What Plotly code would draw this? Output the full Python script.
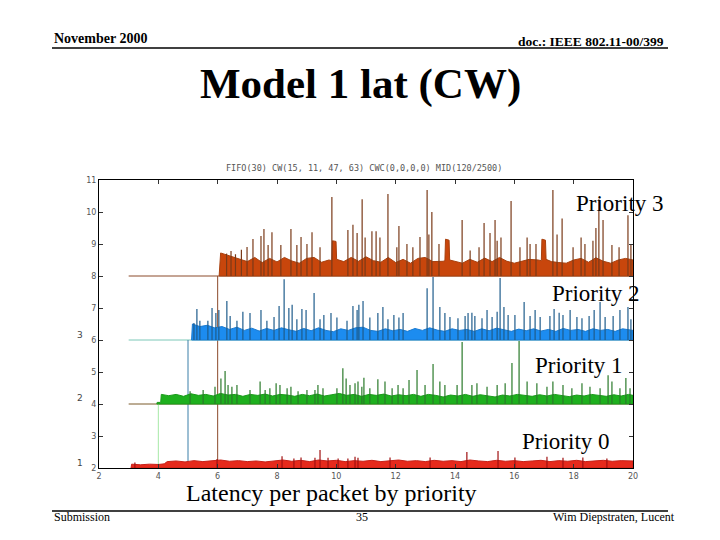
import plotly.graph_objects as go

# ---------------- data ----------------
x_tick_vals = [2, 4, 6, 8, 10, 12, 14, 16, 18, 20]
y_tick_vals = [2, 3, 4, 5, 6, 7, 8, 9, 10, 11]

# Priority 3 (baseline 8)
p3_base = 8
p3_band_x = [6.05, 6.1, 6.3, 6.5, 6.75, 7.0, 7.25, 7.5, 7.75, 8.0, 8.25, 8.5, 8.75, 9.0, 9.25, 9.5, 9.75, 9.85,
             9.87, 9.99, 10.01, 10.25, 10.5, 10.75, 11.0, 11.25, 11.5, 11.75, 12.0, 12.25, 12.5, 12.75, 13.0,
             13.25, 13.6, 13.66, 13.68, 13.8, 13.82, 14.0, 14.25, 14.5, 14.75, 15.0, 15.25, 15.5, 15.75, 16.0,
             16.25, 16.5, 16.8, 16.91, 16.93, 17.05, 17.07, 17.25, 17.5, 17.75, 18.0, 18.25, 18.5, 18.75, 19.0,
             19.25, 19.5, 19.75, 20.0]
p3_band_y = [8.0, 8.72, 8.66, 8.6, 8.52, 8.45, 8.58, 8.42, 8.55, 8.44, 8.58, 8.47, 8.4, 8.55, 8.58, 8.43, 8.5, 8.48,
             9.1, 9.08, 8.52, 8.45, 8.58, 8.46, 8.6, 8.48, 8.43, 8.58, 8.42, 8.52, 8.4, 8.55, 8.58,
             8.45, 8.46, 8.48, 9.15, 9.12, 8.5, 8.46, 8.4, 8.52, 8.43, 8.56, 8.45, 8.58, 8.46, 8.4,
             8.47, 8.52, 8.5, 8.48, 9.15, 9.12, 8.52, 8.45, 8.42, 8.4, 8.5, 8.55, 8.43, 8.57, 8.46,
             8.4, 8.5, 8.55, 8.5]
p3_spike_x = [6.3, 6.45, 6.6, 6.8, 6.99, 7.19, 7.46, 7.56, 7.70, 7.83, 8.13, 8.47, 8.67, 8.81, 9.01, 9.18, 9.45,
              9.85, 10.39, 10.56, 10.70, 10.87, 10.97, 11.20, 11.34, 11.47, 11.74, 12.04, 12.11, 12.38, 12.58,
              12.82, 13.06, 13.12, 13.22, 13.46, 14.24, 14.51, 14.81, 14.98, 15.18, 15.35, 15.42, 15.55, 15.89,
              16.19, 16.43, 16.53, 16.73, 17.30, 17.44, 17.61, 17.98, 18.25, 18.38, 18.65, 18.75, 18.85, 18.99,
              19.29, 19.53, 19.83, 19.93]
p3_spike_y = [8.7, 8.78, 8.68, 8.82, 8.91, 9.16, 9.25, 9.47, 8.97, 9.37, 8.97, 9.47, 8.97, 9.22, 9.0, 9.37, 8.9,
              10.47, 9.44, 9.6, 9.34, 10.4, 9.2, 9.4, 9.4, 9.2, 10.56, 8.9, 9.56, 9.0, 8.9,
              9.22, 10.69, 9.3, 10.0, 9.0, 9.75, 8.8, 8.9, 9.66, 9.34, 9.75, 9.1, 9.2, 10.34,
              8.9, 9.2, 9.0, 9.0, 10.69, 9.3, 9.8, 8.9, 9.2, 9.0, 9.1, 9.5, 10.4, 9.75,
              8.97, 8.9, 9.9, 9.0]

# Priority 2 (baseline 6)
p2_base = 6
p2_band_x = [5.12, 5.15, 5.4, 5.65, 5.9, 6.15, 6.4, 6.65, 6.9, 7.15, 7.4, 7.65, 7.9, 8.15, 8.4, 8.65, 8.9, 9.15,
             9.4, 9.65, 9.9, 10.15, 10.4, 10.65, 10.9, 11.15, 11.4, 11.65, 11.9, 12.15, 12.4, 12.65, 12.9, 13.15,
             13.4, 13.65, 13.9, 14.15, 14.4, 14.65, 14.9, 15.15, 15.4, 15.65, 15.9, 16.15, 16.4, 16.65, 16.9,
             17.15, 17.4, 17.65, 17.9, 18.15, 18.4, 18.65, 18.9, 19.15, 19.4, 19.65, 20.0]
p2_band_y = [6.0, 6.5, 6.42, 6.46, 6.38, 6.42, 6.33, 6.4, 6.3, 6.37, 6.28, 6.36, 6.3, 6.38, 6.32, 6.27, 6.36, 6.29,
             6.38, 6.3, 6.26, 6.35, 6.3, 6.38, 6.4, 6.3, 6.27, 6.35, 6.29, 6.33, 6.27, 6.36, 6.3, 6.38,
             6.31, 6.27, 6.35, 6.3, 6.33, 6.27, 6.35, 6.29, 6.37, 6.32, 6.27, 6.34, 6.29, 6.35, 6.28,
             6.33, 6.27, 6.36, 6.3, 6.33, 6.27, 6.35, 6.3, 6.33, 6.27, 6.35, 6.3]
p2_spike_x = [5.20, 5.30, 5.40, 5.67, 5.81, 5.94, 6.04, 6.31, 6.42, 6.65, 6.85, 7.09, 7.46, 7.66, 7.90, 8.07, 8.24,
              8.40, 8.51, 8.67, 8.84, 8.98, 9.25, 9.45, 9.58, 9.82, 10.02, 10.36, 10.56, 10.70, 10.76, 10.90,
              11.13, 11.40, 11.57, 11.74, 11.94, 12.11, 12.25, 13.06, 13.26, 13.49, 13.66, 13.83, 14.10, 14.34,
              14.44, 14.57, 14.67, 14.91, 15.08, 15.25, 15.42, 15.52, 15.65, 15.79, 16.02, 16.33, 16.53, 16.70,
              16.87, 17.20, 17.34, 17.51, 17.64, 17.88, 18.11, 18.28, 18.52, 18.69, 18.89, 19.06, 19.33, 19.56,
              19.83, 19.93]
p2_spike_y = [6.53, 6.97, 6.6, 6.6, 7.0, 6.84, 6.94, 7.22, 6.75, 6.6, 6.88, 6.84, 6.94, 6.6, 6.72, 7.06, 7.9,
              7.0, 7.1, 6.65, 6.97, 6.94, 7.47, 6.65, 6.78, 6.84, 6.7, 6.6, 7.06, 6.94, 7.1, 7.22,
              6.7, 6.84, 7.03, 6.65, 6.78, 6.7, 6.84, 7.62, 7.97, 7.03, 6.84, 6.72, 6.68, 6.75,
              6.84, 6.85, 6.75, 6.68, 6.94, 6.72, 6.88, 7.94, 7.03, 6.78, 6.78, 7.19, 6.75, 6.94,
              6.72, 6.75, 6.97, 6.85, 6.78, 6.94, 6.72, 6.68, 6.75, 6.94, 7.19, 6.72, 6.75, 6.94,
              7.03, 6.65]

# Priority 1 (baseline 4)
p1_base = 4
p1_band_x = [3.95, 3.96, 4.08, 4.1, 4.35, 4.6, 4.85, 5.1, 5.35, 5.6, 5.85, 6.1, 6.35, 6.6, 6.85, 7.1, 7.35, 7.6,
             7.85, 8.1, 8.35, 8.6, 8.85, 9.1, 9.35, 9.6, 9.85, 10.1, 10.35, 10.6, 10.85, 11.1, 11.35, 11.6, 11.85,
             12.1, 12.35, 12.6, 12.85, 13.1, 13.35, 13.6, 13.85, 14.1, 14.35, 14.6, 14.85, 15.1, 15.35, 15.6,
             15.85, 16.1, 16.35, 16.6, 16.85, 17.1, 17.35, 17.6, 17.85, 18.1, 18.35, 18.6, 18.85, 19.1, 19.35,
             19.6, 19.85, 20.0]
p1_band_y = [4.0, 4.05, 4.05, 4.3, 4.26, 4.3, 4.24, 4.32, 4.27, 4.3, 4.25, 4.33, 4.28, 4.3, 4.24, 4.3, 4.27, 4.31,
             4.25, 4.3, 4.28, 4.24, 4.3, 4.26, 4.31, 4.25, 4.29, 4.33, 4.27, 4.3, 4.24, 4.3, 4.27, 4.31, 4.25,
             4.29, 4.26, 4.3, 4.24, 4.3, 4.27, 4.22, 4.28, 4.25, 4.3, 4.24, 4.29, 4.26, 4.22, 4.28,
             4.25, 4.3, 4.26, 4.24, 4.29, 4.25, 4.3, 4.26, 4.23, 4.28, 4.25, 4.3, 4.26, 4.24, 4.29,
             4.25, 4.3, 4.27]
p1_spike_x = [5.07, 5.51, 5.91, 6.11, 6.25, 6.35, 6.48, 6.65, 7.09, 7.43, 7.60, 7.76, 7.97, 8.10, 8.34, 8.47, 8.71,
              9.01, 9.28, 9.38, 9.55, 10.02, 10.22, 10.33, 10.46, 10.63, 10.73, 10.86, 10.93, 11.13, 11.40,
              11.64, 11.88, 12.08, 12.25, 12.45, 12.72, 12.99, 13.26, 13.49, 13.66, 14.07, 14.24, 14.57, 14.74,
              15.08, 15.42, 15.69, 15.92, 16.16, 16.43, 16.76, 17.10, 17.30, 17.64, 17.94, 18.28, 18.55, 18.89,
              19.16, 19.29, 19.56, 19.76, 19.90]
p1_spike_y = [4.4, 4.44, 4.54, 4.8, 5.03, 4.59, 4.54, 4.59, 4.44, 4.7, 4.44, 4.49, 4.65, 4.59, 4.49, 4.54, 4.4,
              4.44, 4.44, 4.59, 4.49, 4.49, 5.12, 4.8, 4.59, 4.65, 4.7, 4.54, 4.82, 4.49, 4.77,
              4.7, 4.49, 4.59, 4.49, 4.75, 5.06, 4.59, 5.25, 4.7, 4.59, 4.59, 5.94, 4.59, 4.65,
              4.54, 4.59, 4.65, 5.28, 5.97, 4.7, 4.65, 4.54, 4.7, 4.59, 4.49, 4.65, 4.54, 4.49,
              4.9, 4.7, 4.49, 4.81, 4.49]

# Priority 0 (baseline 2)
p0_base = 2
p0_band_x = [3.08, 3.1, 3.4, 3.7, 4.0, 4.2, 4.3, 4.6, 4.9, 5.2, 5.5, 5.8, 6.1, 6.4, 6.7, 7.0, 7.3, 7.6, 7.9, 8.2,
             8.5, 8.8, 9.1, 9.4, 9.7, 10.0, 10.3, 10.6, 10.9, 11.2, 11.5, 11.8, 12.1, 12.4, 12.7, 13.0, 13.3,
             13.6, 13.9, 14.2, 14.5, 14.8, 15.1, 15.4, 15.7, 16.0, 16.3, 16.6, 16.9, 17.2, 17.5, 17.8, 18.1,
             18.4, 18.7, 19.0, 19.3, 19.6, 20.0]
p0_band_y = [2.0, 2.12, 2.1, 2.12, 2.11, 2.13, 2.2, 2.22, 2.19, 2.23, 2.2, 2.22, 2.25, 2.21, 2.23, 2.2, 2.22, 2.19,
             2.23, 2.25, 2.21, 2.24, 2.2, 2.25, 2.22, 2.24, 2.2, 2.23, 2.21, 2.24, 2.2, 2.22, 2.25, 2.21, 2.23,
             2.2, 2.24, 2.21, 2.23, 2.2, 2.25, 2.22, 2.2, 2.24, 2.21, 2.23, 2.2, 2.22, 2.24, 2.2, 2.23, 2.21,
             2.24, 2.2, 2.22, 2.24, 2.21, 2.23, 2.22]
p0_spike_x = [3.21, 5.98, 8.17, 8.57, 8.81, 9.28, 9.45, 9.72, 10.06, 10.39, 10.63, 10.73, 11.81, 13.16, 14.40,
              15.45, 16.02, 17.10, 17.64, 18.31, 19.12]
p0_spike_y = [2.17, 2.28, 2.37, 2.3, 2.33, 2.32, 2.56, 2.32, 2.3, 2.3, 2.35, 2.32, 2.33, 2.33, 2.5,
              2.53, 2.33, 2.35, 2.32, 2.33, 2.3]

# step lines (start of each trace before the data begins)
step_levels = [8, 6, 4]
step_start_x = [3.0, 3.0, 3.0]
drop_x = [6.0, 5.0, 4.0]
labels = ["Priority 3", "Priority 2", "Priority 1", "Priority 0"]

# ---------------- styling ----------------
fill_cols = ["#C8460C", "#1C8CF0", "#1EB01E", "#E62A1C"]
edge_cols = ["#A8400E", "#1A7AD0", "#1A9A1A", "#C82018"]
spike_cols = ["#7A3A18", "#1E5C8C", "#2A7A2A", "#A01010"]
step_cols = ["#8B4A2B", "#7CC8B8", "#7A5A2A"]
drop_cols = ["#8B4A2B", "#3B7EA8", "#A6E8A6"]

# page offset (browser body margin) and plot-area box in screen pixels
OFF = 8
PX_L, PX_R, PX_T, PX_B = 99, 633, 180, 468
FIG_W, FIG_H = 720 - OFF, 540 - OFF


def P(px, py):
    return (px - PX_L) / (PX_R - PX_L), (PX_B - py) / (PX_B - PX_T)


fig = go.Figure()

# step / drop lines
for lvl, sx, dx, sc, dc in zip(step_levels, step_start_x, drop_x, step_cols, drop_cols):
    fig.add_trace(go.Scatter(x=[sx, 20], y=[lvl, lvl], mode="lines",
                             line=dict(color=sc, width=1), hoverinfo="skip", showlegend=False))
    fig.add_trace(go.Scatter(x=[dx, dx], y=[2, lvl], mode="lines",
                             line=dict(color=dc, width=1), hoverinfo="skip", showlegend=False))

series = [
    (p3_base, p3_band_x, p3_band_y, p3_spike_x, p3_spike_y),
    (p2_base, p2_band_x, p2_band_y, p2_spike_x, p2_spike_y),
    (p1_base, p1_band_x, p1_band_y, p1_spike_x, p1_spike_y),
    (p0_base, p0_band_x, p0_band_y, p0_spike_x, p0_spike_y),
]

for i, (base, bx, by, sx, sy) in enumerate(series):
    poly_x = list(bx) + [bx[-1], bx[0]]
    poly_y = list(by) + [base, base]
    fig.add_trace(go.Scatter(x=poly_x, y=poly_y, mode="lines", fill="toself",
                             fillcolor=fill_cols[i], line=dict(color=edge_cols[i], width=1),
                             hoverinfo="skip", showlegend=False))
    lx, ly = [], []
    for xv, yv in zip(sx, sy):
        lx += [xv, xv, None]
        ly += [base, yv, None]
    fig.add_trace(go.Scatter(x=lx, y=ly, mode="lines", line=dict(color=spike_cols[i], width=1.2),
                             hoverinfo="skip", showlegend=False))

ann = []


def txt(px, py, s, size, family="Liberation Serif", color="black", bold=False, xanchor="left"):
    x, y = P(px, py)
    ann.append(dict(x=x, y=y, xref="paper", yref="paper", text=("<b>%s</b>" % s) if bold else s,
                    showarrow=False, xanchor=xanchor, yanchor="middle",
                    font=dict(family=family, size=size, color=color)))


txt(52, 38, "November 2000", 14, bold=True)
txt(666, 42, "doc.: IEEE 802.11-00/399", 13.5, bold=True, xanchor="right")
txt(360, 84, "Model 1 lat (CW)", 43, bold=True, xanchor="center")
txt(364, 168, "FIFO(30) CW(15, 11, 47, 63) CWC(0,0,0,0) MID(120/2500)", 8.5,
    family="DejaVu Sans Mono", color="#555555", xanchor="center")
txt(666, 203, labels[0], 23, xanchor="right")
txt(642, 293, labels[1], 23, xanchor="right")
txt(625, 365, labels[2], 23, xanchor="right")
txt(612, 441, labels[3], 23, xanchor="right")
txt(331, 493, "Latency per packet by priority", 24, xanchor="center")
txt(52, 517, "Submission", 12)
txt(362, 517, "35", 12, xanchor="center")
txt(677, 517, "Wim Diepstraten, Lucent", 12, xanchor="right")
txt(80, 335, "3", 9, family="DejaVu Sans", color="#444444", xanchor="center")
txt(80, 398, "2", 9, family="DejaVu Sans", color="#444444", xanchor="center")
txt(80, 463, "1", 9, family="DejaVu Sans", color="#444444", xanchor="center")

shapes = []
for py in (48, 511):
    x0, y0 = P(52, py)
    x1, _ = P(668, py)
    shapes.append(dict(type="line", xref="paper", yref="paper", x0=x0, x1=x1, y0=y0, y1=y0,
                       line=dict(color="black", width=1.5)))

fig.update_layout(
    width=FIG_W, height=FIG_H,
    margin=dict(l=PX_L - OFF, r=FIG_W - (PX_R - OFF), t=PX_T - OFF, b=FIG_H - (PX_B - OFF)),
    paper_bgcolor="white", plot_bgcolor="white",
    annotations=ann, shapes=shapes, showlegend=False,
    xaxis=dict(range=[2, 20], tickvals=x_tick_vals, showgrid=False, zeroline=False,
               showline=True, linecolor="black", linewidth=1, mirror="ticks",
               ticks="inside", ticklen=4, tickcolor="#333333",
               tickfont=dict(family="DejaVu Sans", size=8, color="#555555")),
    yaxis=dict(range=[2, 11], tickvals=y_tick_vals, showgrid=False, zeroline=False,
               showline=True, linecolor="black", linewidth=1, mirror="ticks",
               ticks="inside", ticklen=4, tickcolor="#333333",
               tickfont=dict(family="DejaVu Sans", size=8, color="#555555")),
)

fig.write_html("out.html")
